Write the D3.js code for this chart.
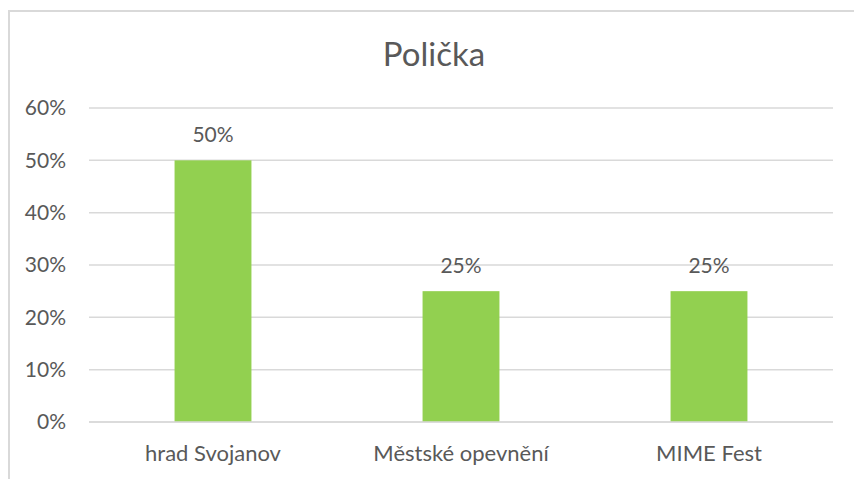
<!DOCTYPE html>
<html>
<head>
<meta charset="utf-8">
<script src="https://cdn.jsdelivr.net/npm/d3@7"></script>
<style>
    body { margin: 0; background: #fff; }
    text { font-family: Lato, "Open Sans", sans-serif; fill: #595959; }
</style>
</head>
<body>
<script>
//chart data
var title = "Polička";
var categories = ["hrad Svojanov", "Městské opevnění", "MIME Fest"];
var values = [0.50, 0.25, 0.25];
var yTicks = [0, 0.1, 0.2, 0.3, 0.4, 0.5, 0.6];

//draw chart when window loads
window.onload = drawChart();

function drawChart(){
    var width = 854,
        height = 479;

    var svg = d3.select("body")
        .append("svg")
        .attr("width", width)
        .attr("height", height);

    //chart frame (only top and left edges show in the crop)
    svg.append("path")
        .attr("d", "M9,480 L9,11 L856,11")
        .attr("fill", "none")
        .attr("stroke", "#d9d9d9")
        .attr("stroke-width", 2);

    //plot area
    var left = 89, right = 833, top = 108, bottom = 422;

    var x = d3.scaleBand()
        .domain(categories)
        .range([left, right])
        .paddingInner(0.69)
        .paddingOuter(0.345);

    var y = d3.scaleLinear()
        .domain([0, 0.6])
        .range([bottom, top]);

    //gridlines
    svg.selectAll(".grid")
        .data(yTicks)
        .enter()
        .append("line")
        .attr("class", "grid")
        .attr("x1", left)
        .attr("x2", right)
        .attr("y1", function(d){ return y(d); })
        .attr("y2", function(d){ return y(d); })
        .attr("stroke", "#d9d9d9")
        .attr("stroke-width", 1.5);

    //y axis labels
    var yAxis = d3.axisLeft(y)
        .tickValues(yTicks)
        .tickFormat(d3.format(".0%"))
        .tickSize(0)
        .tickPadding(23);

    var yAxisG = svg.append("g")
        .attr("transform", "translate(" + left + ",0)")
        .call(yAxis);
    yAxisG.select(".domain").remove();
    yAxisG.selectAll("text")
        .style("font-size", "21px")
        .style("font-family", "Lato, sans-serif")
        .attr("fill", "#595959");

    //bars
    svg.selectAll(".bar")
        .data(values)
        .enter()
        .append("rect")
        .attr("class", "bar")
        .attr("x", function(d, i){ return x(categories[i]); })
        .attr("width", x.bandwidth())
        .attr("y", function(d){ return y(d); })
        .attr("height", function(d){ return bottom - y(d); })
        .attr("fill", "#92d050");

    //redraw baseline over bars
    svg.append("line")
        .attr("x1", left)
        .attr("x2", right)
        .attr("y1", y(0))
        .attr("y2", y(0))
        .attr("stroke", "#d9d9d9")
        .attr("stroke-width", 1.5);

    //value labels
    svg.selectAll(".valLabel")
        .data(values)
        .enter()
        .append("text")
        .attr("class", "valLabel")
        .attr("x", function(d, i){ return x(categories[i]) + x.bandwidth() / 2; })
        .attr("y", function(d){ return y(d) - 18; })
        .attr("text-anchor", "middle")
        .style("font-size", "21px")
        .text(d3.format(".0%"));

    //x axis labels
    var xAxis = d3.axisBottom(x)
        .tickSize(0)
        .tickPadding(23);

    var xAxisG = svg.append("g")
        .attr("transform", "translate(0," + bottom + ")")
        .call(xAxis);
    xAxisG.select(".domain").remove();
    xAxisG.selectAll("text")
        .style("font-size", "22px")
        .style("font-family", "Lato, sans-serif")
        .attr("fill", "#595959");

    //title
    svg.append("text")
        .attr("x", 434)
        .attr("y", 66)
        .attr("text-anchor", "middle")
        .style("font-size", "33px")
        .text(title);
};
</script>
</body>
</html>
